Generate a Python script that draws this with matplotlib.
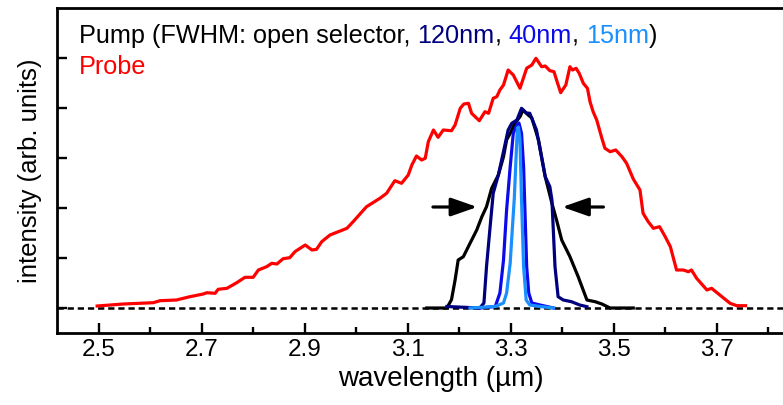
import matplotlib
matplotlib.use("Agg")
import matplotlib.pyplot as plt
import numpy as np

plt.rcParams['font.family'] = ['Liberation Sans', 'DejaVu Sans']
plt.rcParams['lines.scale_dashes'] = False

# ---- data (wavelength in µm, intensity arb. units) ----
probe_x = [2.497, 2.548, 2.606, 2.619, 2.651, 2.677, 2.703, 2.710, 2.726, 2.732, 2.749, 2.768,
           2.784, 2.800, 2.810, 2.826, 2.836, 2.846, 2.858, 2.871, 2.881, 2.891, 2.901, 2.914,
           2.923, 2.933, 2.949, 2.982, 2.994, 3.020, 3.046, 3.059, 3.075, 3.088, 3.101, 3.108,
           3.117, 3.127, 3.134, 3.140, 3.150, 3.159, 3.169, 3.185, 3.192, 3.202, 3.209, 3.218,
           3.224, 3.239, 3.250, 3.257, 3.266, 3.273, 3.279, 3.286, 3.295, 3.305, 3.318, 3.331,
           3.341, 3.349, 3.360, 3.367, 3.376, 3.384, 3.389, 3.397, 3.407, 3.415, 3.420, 3.427,
           3.433, 3.441, 3.449, 3.454, 3.460, 3.467, 3.477, 3.483, 3.493, 3.504, 3.516, 3.525,
           3.538, 3.551, 3.557, 3.567, 3.577, 3.589, 3.600, 3.610, 3.622, 3.635, 3.645, 3.651,
           3.661, 3.681, 3.690, 3.706, 3.726, 3.739, 3.756]
probe_y = [0.04, 0.08, 0.106, 0.146, 0.16, 0.226, 0.28, 0.306, 0.294, 0.374, 0.394, 0.506,
           0.614, 0.614, 0.76, 0.826, 0.894, 0.88, 0.986, 1.006, 1.126, 1.194, 1.26, 1.16,
           1.174, 1.326, 1.46, 1.594, 1.726, 2.026, 2.194, 2.294, 2.546, 2.494, 2.66, 2.86,
           3.04, 2.96, 2.994, 3.326, 3.56, 3.414, 3.56, 3.546, 3.66, 3.994, 4.08, 4.094,
           3.894, 3.746, 3.926, 3.894, 4.194, 4.226, 4.36, 4.46, 4.76, 4.66, 4.394, 4.796,
           4.86, 4.994, 4.826, 4.84, 4.746, 4.726, 4.56, 4.306, 4.46, 4.826, 4.76, 4.794,
           4.694, 4.494, 4.394, 4.126, 3.926, 3.76, 3.394, 3.194, 3.126, 3.16, 3.026, 2.894,
           2.58, 2.36, 1.894, 1.726, 1.594, 1.626, 1.426, 1.226, 0.76, 0.76, 0.726, 0.76,
           0.594, 0.36, 0.394, 0.26, 0.094, 0.046, 0.046]

pump_open_x = [3.137, 3.176, 3.185, 3.192, 3.198, 3.208, 3.221, 3.234, 3.244, 3.253, 3.263,
               3.276, 3.286, 3.292, 3.299, 3.308, 3.318, 3.324, 3.334, 3.341, 3.350, 3.354,
               3.367, 3.380, 3.389, 3.399, 3.415, 3.431, 3.448, 3.464, 3.477, 3.493, 3.538]
pump_open_y = [0.0, 0.0, 0.166, 0.56, 0.96, 1.026, 1.294, 1.56, 1.826, 2.026, 2.394,
               2.66, 3.026, 3.36, 3.494, 3.694, 3.826, 3.96, 3.86, 3.80, 3.494, 3.36,
               2.626, 2.094, 1.76, 1.36, 1.026, 0.626, 0.16, 0.126, 0.08, 0.0, 0.0]

pump_120_x = [3.176, 3.240, 3.248, 3.253, 3.260, 3.266, 3.276, 3.288, 3.295, 3.302, 3.312,
              3.321, 3.330, 3.337, 3.350, 3.367, 3.376, 3.380, 3.383, 3.386, 3.392, 3.402,
              3.418, 3.434, 3.448]
pump_120_y = [0.03, 0.0, 0.1, 0.826, 1.626, 2.294, 2.66, 3.226, 3.56, 3.694, 3.76,
              3.994, 3.9, 3.894, 3.56, 2.626, 2.426, 2.16, 1.494, 0.826, 0.226, 0.16,
              0.126, 0.06, 0.026]

pump_40_x = [3.240, 3.270, 3.279, 3.286, 3.292, 3.299, 3.305, 3.312, 3.316, 3.321, 3.325,
             3.328, 3.331, 3.335, 3.341, 3.357, 3.383]
pump_40_y = [0.0, 0.03, 0.3, 0.96, 1.96, 2.826, 3.494, 3.66, 3.7, 3.494, 2.826,
             1.826, 0.826, 0.3, 0.1, 0.06, 0.0]

pump_15_x = [3.221, 3.270, 3.286, 3.292, 3.299, 3.302, 3.307, 3.311, 3.313, 3.315, 3.318,
             3.321, 3.325, 3.330, 3.337, 3.357, 3.383]
pump_15_y = [0.0, 0.03, 0.1, 0.3, 0.9, 1.4, 2.2, 3.16, 3.6, 3.62, 3.36,
             2.16, 0.83, 0.16, 0.06, 0.03, 0.0]

xticks_major = [2.5, 2.7, 2.9, 3.1, 3.3, 3.5, 3.7]
xticks_minor = [2.6, 2.8, 3.0, 3.2, 3.4, 3.6, 3.8]
yticks = [0, 1, 2, 3, 4, 5]

c_probe = '#ff0000'
c_open = '#000000'
c_120 = '#00007f'
c_40 = '#0a0aeb'
c_15 = '#1a90ff'

W, H = 783, 405
fig = plt.figure(figsize=(W / 100, H / 100), dpi=100)
ax_left, ax_bottom, ax_top = 57, 72, 397
xmin, xmax = 2.419, 3.91
px_per_unit = 515.0
ax_w = (xmax - xmin) * px_per_unit
ax_h = ax_top - ax_bottom
ax = fig.add_axes([ax_left / W, ax_bottom / H, ax_w / W, ax_h / H])
ax.set_xlim(xmin, xmax)
ax.set_ylim(-0.5, 6.0)

lw = 2.3
ax.axhline(0, color='k', lw=1.8, dashes=(4.5, 2.8), zorder=1)
ax.plot(probe_x, probe_y, color=c_probe, lw=lw, zorder=2)
ax.plot(pump_open_x, pump_open_y, color=c_open, lw=lw, zorder=3)
ax.plot(pump_120_x, pump_120_y, color=c_120, lw=lw, zorder=4)
ax.plot(pump_40_x, pump_40_y, color=c_40, lw=lw, zorder=5)
ax.plot(pump_15_x, pump_15_y, color=c_15, lw=lw, zorder=6)

# FWHM arrows
aprops = dict(arrowstyle='-|>,head_length=0.8,head_width=0.28', color='k', lw=2.3,
              mutation_scale=20, shrinkA=0, shrinkB=0)
ax.annotate('', xy=(3.235, 2.02), xytext=(3.149, 2.02), arrowprops=aprops)
ax.annotate('', xy=(3.400, 2.02), xytext=(3.480, 2.02), arrowprops=aprops)

for s in ax.spines.values():
    s.set_linewidth(2.0)
ax.spines['right'].set_visible(False)

ax.set_xticks(xticks_major)
ax.set_xticklabels([f"{v:.1f}" for v in xticks_major])
ax.set_xticks(xticks_minor, minor=True)
ax.set_yticks(yticks)
ax.set_yticklabels([])
ax.tick_params(axis='both', which='major', direction='in', length=7.5, width=1.7,
               labelsize=17.5, pad=4)
ax.tick_params(axis='x', which='minor', direction='in', length=4.5, width=1.7)

ax.set_xlabel('wavelength (µm)', fontsize=20, labelpad=4)
ax.set_ylabel('intensity (arb. units)', fontsize=18.5, labelpad=7)

# multi-coloured legend text
fs = 18.2
pieces = [("Pump (FWHM: open selector, ", c_open), ("120nm", c_120), (", ", c_open),
          ("40nm", c_40), (", ", c_open), ("15nm", c_15), (")", c_open)]
t = ax.text(22 / ax_w, (333 - 43) / 325, pieces[0][0], color=pieces[0][1], fontsize=fs,
            transform=ax.transAxes, va='baseline', ha='left')
prev = t
for txt, col in pieces[1:]:
    prev = ax.annotate(txt, xy=(1, 0), xycoords=prev, va='bottom', ha='left',
                       color=col, fontsize=fs)
ax.text(22 / ax_w, (333 - 73.5) / 325, 'Probe', color=c_probe, fontsize=fs,
        transform=ax.transAxes, va='baseline', ha='left')

fig.savefig('out.png', dpi=100)
